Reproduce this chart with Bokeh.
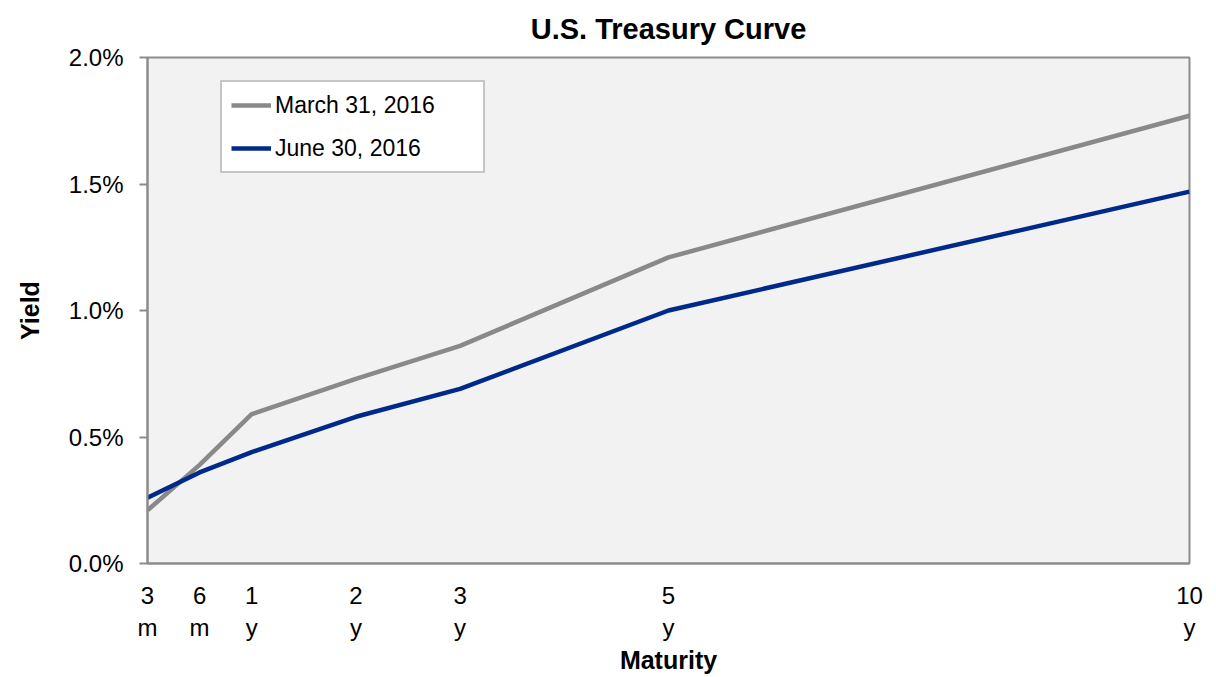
from bokeh.plotting import figure
from bokeh.models import Range1d, FixedTicker, Legend, LegendItem
from bokeh.embed import file_html
from bokeh.resources import INLINE

# Data (yield in %), maturity position in years (3m plotted at 0 as in source)
maturity_pos = [0, 0.5, 1, 2, 3, 5, 10]
maturity_labels = ["3\nm", "6\nm", "1\ny", "2\ny", "3\ny", "5\ny", "10\ny"]
march_2016 = [0.21, 0.39, 0.59, 0.73, 0.86, 1.21, 1.77]
june_2016 = [0.26, 0.36, 0.44, 0.58, 0.69, 1.00, 1.47]
y_ticks = [0, 0.5, 1.0, 1.5, 2.0]
y_tick_labels = ["0.0%", "0.5%", "1.0%", "1.5%", "2.0%"]

FONT = "Liberation Sans"
GRAY_AXIS = "#8c8c8c"

p = figure(width=1216, height=677, output_backend="svg", toolbar_location=None,
           x_range=Range1d(0, 10), y_range=Range1d(0, 2.0),
           min_border_left=147, min_border_right=27, min_border_top=57, min_border_bottom=114,
           title="U.S. Treasury Curve")
p.title.text_font = FONT
p.title.text_font_size = "29px"
p.title.text_font_style = "bold"
p.title.align = "center"
p.title.vertical_align = "top"
p.title.text_line_height = 0.6
p.title.text_color = "black"
p.title.standoff = 22

p.background_fill_color = "#F2F2F2"
p.border_fill_color = "white"
p.outline_line_color = GRAY_AXIS
p.outline_line_width = 2
p.xgrid.visible = False
p.ygrid.visible = False

r1 = p.line(maturity_pos, march_2016, line_color="#898989", line_width=4.5)
r2 = p.line(maturity_pos, june_2016, line_color="#002A8A", line_width=4.5)

# axes
p.xaxis.ticker = FixedTicker(ticks=maturity_pos)
p.xaxis.major_label_overrides = {k: v for k, v in zip(maturity_pos, maturity_labels)}
p.xaxis.major_tick_out = 0
p.xaxis.major_tick_in = 0
p.xaxis.minor_tick_line_color = None
p.xaxis.axis_line_color = GRAY_AXIS
p.xaxis.axis_line_width = 2
p.xaxis.major_label_text_font = FONT
p.xaxis.major_label_text_font_size = "24px"
p.xaxis.major_label_text_color = "black"
p.xaxis.major_label_standoff = 18
p.xaxis.axis_label = "Maturity"
p.xaxis.axis_label_text_font = FONT
p.xaxis.axis_label_text_font_size = "25px"
p.xaxis.axis_label_text_font_style = "bold"
p.xaxis.axis_label_text_color = "black"
p.xaxis.axis_label_standoff = 2

p.yaxis.ticker = FixedTicker(ticks=y_ticks)
p.yaxis.major_label_overrides = {k: v for k, v in zip(y_ticks, y_tick_labels)}
p.yaxis.major_tick_out = 8
p.yaxis.major_tick_in = 0
p.yaxis.major_tick_line_color = GRAY_AXIS
p.yaxis.major_tick_line_width = 2
p.yaxis.minor_tick_line_color = None
p.yaxis.axis_line_color = GRAY_AXIS
p.yaxis.axis_line_width = 2
p.yaxis.major_label_text_font = FONT
p.yaxis.major_label_text_font_size = "24px"
p.yaxis.major_label_text_color = "black"
p.yaxis.major_label_standoff = 16
p.yaxis.axis_label = "Yield"
p.yaxis.axis_label_text_font = FONT
p.yaxis.axis_label_text_font_size = "25px"
p.yaxis.axis_label_text_font_style = "bold"
p.yaxis.axis_label_text_color = "black"
p.yaxis.axis_label_standoff = 22

legend = Legend(items=[LegendItem(label="March 31, 2016", renderers=[r1]),
                       LegendItem(label="June 30, 2016", renderers=[r2])],
                location=(73, 390))
legend.label_text_font = FONT
legend.label_text_font_size = "23px"
legend.label_text_color = "black"
legend.label_standoff = 4
legend.glyph_width = 40
legend.glyph_height = 28
legend.label_height = 28
legend.label_width = 199
legend.spacing = 15
legend.padding = 9
legend.margin = 0
legend.border_line_color = GRAY_AXIS
legend.border_line_width = 2
legend.background_fill_color = "white"
legend.background_fill_alpha = 1.0
p.add_layout(legend)

open("out.html", "w").write(file_html(p, INLINE))
